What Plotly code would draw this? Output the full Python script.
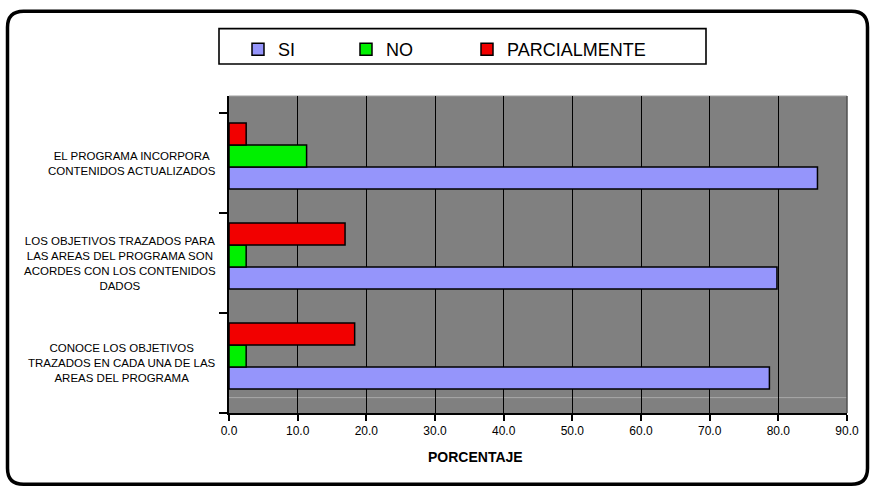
import plotly.graph_objects as go

categories = [
    "CONOCE LOS OBJETIVOS<br>TRAZADOS EN CADA UNA DE LAS<br>AREAS DEL PROGRAMA",
    "LOS OBJETIVOS TRAZADOS PARA<br>LAS AREAS DEL PROGRAMA SON<br>ACORDES CON LOS CONTENIDOS<br>DADOS",
    "EL PROGRAMA INCORPORA<br>CONTENIDOS ACTUALIZADOS",
]
si = [78.7, 79.8, 85.7]
no = [2.5, 2.5, 11.3]
parcial = [18.3, 16.9, 2.5]
x_ticks = [0, 10, 20, 30, 40, 50, 60, 70, 80, 90]

FONT = "Liberation Sans, Arial, sans-serif"
W, H = 872, 488
L, R, T, B = 229, 847, 95.7, 412.7


def px(xp):
    return (xp - L) / (R - L)


def py(yp):
    return (B - yp) / (B - T)


fig = go.Figure()
series = [
    ("SI", si, "#9595fb", -0.26, "legend"),
    ("NO", no, "#00f000", -0.04, "legend2"),
    ("PARCIALMENTE", parcial, "#f20000", 0.18, "legend3"),
]
for name, vals, color, off, leg in series:
    fig.add_trace(go.Bar(
        y=categories, x=vals, orientation="h", name=name,
        offset=off, width=0.22,
        marker=dict(color=color, line=dict(color="black", width=1.5)),
        legend=leg, hoverinfo="x+name",
    ))

shapes = []
# outer rounded frame
x0, x1, y0, y1, r = 7.5, 867.5, 11, 484, 16
path = (
    f"M {px(x0 + r)},{py(y0)} L {px(x1 - r)},{py(y0)} "
    f"Q {px(x1)},{py(y0)} {px(x1)},{py(y0 + r)} L {px(x1)},{py(y1 - r)} "
    f"Q {px(x1)},{py(y1)} {px(x1 - r)},{py(y1)} L {px(x0 + r)},{py(y1)} "
    f"Q {px(x0)},{py(y1)} {px(x0)},{py(y1 - r)} L {px(x0)},{py(y0 + r)} "
    f"Q {px(x0)},{py(y0)} {px(x0 + r)},{py(y0)} Z"
)
shapes.append(dict(type="path", xref="paper", yref="paper", path=path,
                   line=dict(color="black", width=3.5), layer="above"))
# legend box
shapes.append(dict(type="rect", xref="paper", yref="paper",
                   x0=px(219), x1=px(706), y0=py(63.7), y1=py(28.3),
                   line=dict(color="black", width=1.6)))
# plot area edges
shapes.append(dict(type="line", xref="paper", yref="paper", x0=0, x1=1,
                   y0=1, y1=1, line=dict(color="#a0a0a0", width=1.2), layer="below"))
shapes.append(dict(type="line", xref="paper", yref="paper", x0=0, x1=1,
                   y0=py(397.3), y1=py(397.3), line=dict(color="#a8a8a8", width=1), layer="below"))
shapes.append(dict(type="line", xref="paper", yref="paper", x0=1, x1=1,
                   y0=0, y1=1, line=dict(color="#505050", width=1.5), layer="above"))

annotations = []
for c in categories:
    annotations.append(dict(
        x=px(218), xref="paper", y=c, yref="y", text=c, showarrow=False,
        xanchor="right", yanchor="middle", align="center",
        font=dict(family=FONT, size=11.5, color="black"),
    ))
annotations.append(dict(
    x=px(475.7), xref="paper", y=py(456.7), yref="paper", text="<b>PORCENTAJE</b>",
    showarrow=False, xanchor="center", yanchor="middle",
    font=dict(family=FONT, size=14, color="black"),
))

leg_common = dict(orientation="h", yanchor="middle", xanchor="left",
                  bgcolor="rgba(0,0,0,0)", borderwidth=0,
                  font=dict(family=FONT, size=18, color="black"))
fig.update_layout(
    width=W, height=H,
    margin=dict(l=L, r=W - R, t=T, b=H - B, pad=0),
    paper_bgcolor="white", plot_bgcolor="#808080",
    barmode="overlay",
    showlegend=True,
    legend=dict(x=px(238), y=py(49.3), **leg_common),
    legend2=dict(x=px(346), y=py(49.3), **leg_common),
    legend3=dict(x=px(467), y=py(49.3), **leg_common),
    xaxis=dict(
        range=[0, 90], tickvals=x_ticks, tickformat=".1f",
        showgrid=True, gridcolor="black", gridwidth=1.3,
        zeroline=False, showline=True, linecolor="black", linewidth=2,
        ticks="outside", ticklen=6, tickwidth=1.5, tickcolor="black",
        tickfont=dict(family=FONT, size=12, color="black"),
    ),
    yaxis=dict(
        type="category", range=[-0.5, 2.67], tickson="boundaries",
        showticklabels=False, showgrid=False, zeroline=False,
        showline=True, linecolor="black", linewidth=1.5,
        ticks="outside", ticklen=8, tickwidth=1.5, tickcolor="black",
    ),
    shapes=shapes, annotations=annotations,
)

fig.write_html("out.html", config={"displayModeBar": False},
               post_script="document.body.style.margin='0';")
